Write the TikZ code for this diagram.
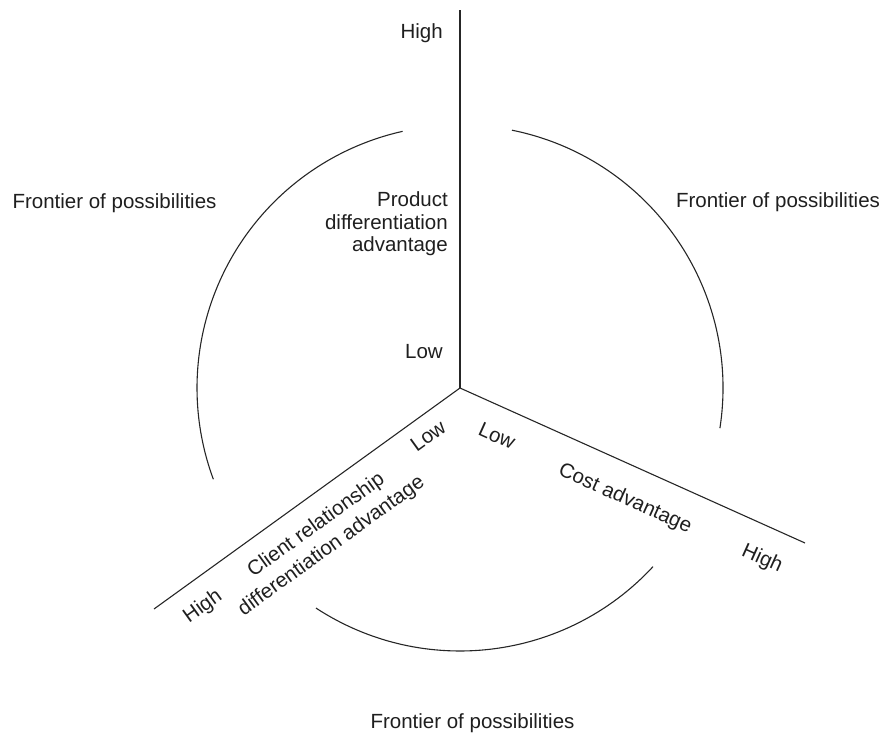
\documentclass[tikz,border=0pt]{standalone}
\usepackage{fontspec}
\setmainfont{Liberation Sans}
\begin{document}
\begin{tikzpicture}[x=1pt,y=1pt,
  axis/.style={draw=black!85,line width=1.1pt},
  frontier/.style={draw=black!85,line width=1.1pt},
  lbl/.style={inner sep=0pt,text=black!88,font=\fontsize{20.5}{22.5}\selectfont},
  costlbl/.style={lbl,rotate=-24.2},
  clientlbl/.style={lbl,rotate=35.8}]
  % page frame, origin at the meeting point of the three axes
  \useasboundingbox (-460,-348) rectangle (422,388);

  % axes
  \coordinate (O) at (0,0);
  \coordinate (ptop) at (0,378);
  \coordinate (pcost) at (345,-155);
  \coordinate (pclient) at (-306,-221);
  \draw[axis] (O) -- (ptop);
  \draw[axis] (O) -- (pcost);
  \draw[axis] (O) -- (pclient);

  % frontier arcs between the axes
  \coordinate (fl) at (102.6:263);
  \coordinate (fr) at (-8.8:263);
  \coordinate (fb) at (236.8:263);
  \draw[frontier] (fl) arc[start angle=102.6,end angle=200.3,radius=263];
  \draw[frontier] (fr) arc[start angle=-8.8,end angle=78.6,radius=263];
  \draw[frontier] (fb) arc[start angle=236.8,end angle=317.2,radius=263];

  % product axis labels
  \node[lbl,anchor=east] (phigh) at (-17,355) {High};
  \node[lbl,anchor=east,align=right] (pname) at (-12,164) {Product\\differentiation\\advantage};
  \node[lbl,anchor=east] (plow) at (-17,36) {Low};

  % cost axis labels
  \node[costlbl] (clow) at (37,-48) {Low};
  \node[costlbl] (cname) at (165,-111) {Cost advantage};
  \node[costlbl] (chigh) at (302,-171) {High};

  % client axis labels
  \node[clientlbl] (rlow) at (-32,-48) {Low};
  \node[clientlbl,align=center,font=\fontsize{20.5}{26}\selectfont] (rname) at (-136,-148) {Client relationship\\differentiation advantage};
  \node[clientlbl] (rhigh) at (-257,-219) {High};

  % frontier labels
  \node[lbl] (fleft) at (-345.5,185) {Frontier of possibilities};
  \node[lbl] (fright) at (318,186) {Frontier of possibilities};
  \node[lbl] (fbottom) at (12.5,-335) {Frontier of possibilities};
\end{tikzpicture}
\end{document}
